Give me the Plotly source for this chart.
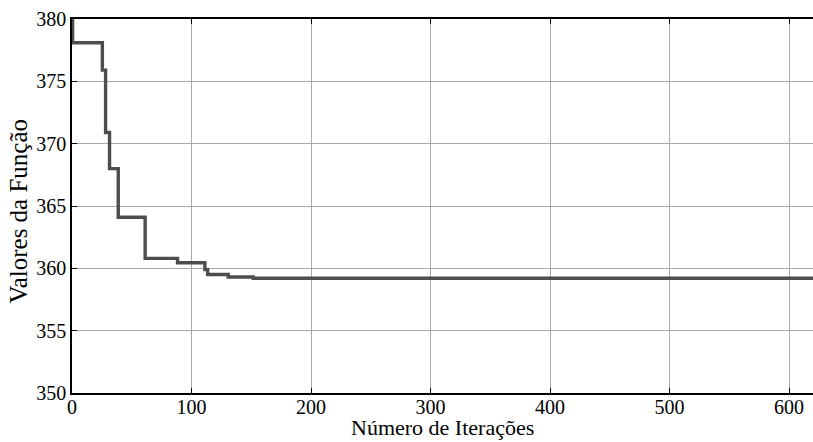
import plotly.graph_objects as go

# step data (iteration where value changes, value)
iters = [0, 0.5, 25.4, 28.1, 31.4, 38.7, 61.2, 88.3, 111.2, 113.5, 130.7, 151.6, 620]
values = [381, 378.1, 375.9, 370.9, 368.0, 364.1, 360.8, 360.45, 359.9, 359.5, 359.3, 359.2, 359.2]

x_ticks = [0, 100, 200, 300, 400, 500, 600]
y_ticks = [350, 355, 360, 365, 370, 375, 380]

x_title = "Número de Iterações"
y_title = "Valores da Função"

fig = go.Figure()
fig.add_trace(go.Scatter(
    x=iters, y=values, mode="lines",
    line=dict(color="#4d4d4d", width=3.4, shape="hv"),
    showlegend=False,
))

font = dict(family="Liberation Serif", color="black")
fig.update_layout(
    width=813, height=442,
    margin=dict(l=72, r=0, t=19, b=49),
    paper_bgcolor="white", plot_bgcolor="white",
    font=dict(size=20, **font),
    xaxis=dict(
        range=[0, 620], tickvals=x_ticks, ticks="inside", ticklen=5, tickcolor="black",
        showline=True, linecolor="black", linewidth=1.5, mirror="ticks",
        showgrid=True, gridcolor="#a8a8a8", gridwidth=1, zeroline=False,
        tickfont=dict(size=20, **font), automargin=False, ticklabelstandoff=-5,
    ),
    yaxis=dict(
        range=[350, 380], tickvals=y_ticks, ticks="inside", ticklen=5, tickcolor="black",
        showline=True, linecolor="black", linewidth=1.5, mirror=False,
        showgrid=True, gridcolor="#a8a8a8", gridwidth=1, zeroline=False,
        tickfont=dict(size=20, **font), automargin=False,
    ),
    annotations=[
        dict(
            text=y_title, textangle=-90, font=dict(size=25, **font),
            xref="paper", yref="paper", x=0, y=0.485, xanchor="center", yanchor="middle",
            xshift=-53, showarrow=False,
        ),
        dict(
            text=x_title, font=dict(size=22, **font),
            xref="paper", yref="paper", x=0.5, y=-49 / 374.0, xanchor="center", yanchor="bottom",
            yshift=0, showarrow=False,
        ),
    ],
)
fig.write_html(
    "out.html",
    config={"displayModeBar": False},
    post_script="document.body.style.margin='0';document.body.style.overflow='hidden';",
)
